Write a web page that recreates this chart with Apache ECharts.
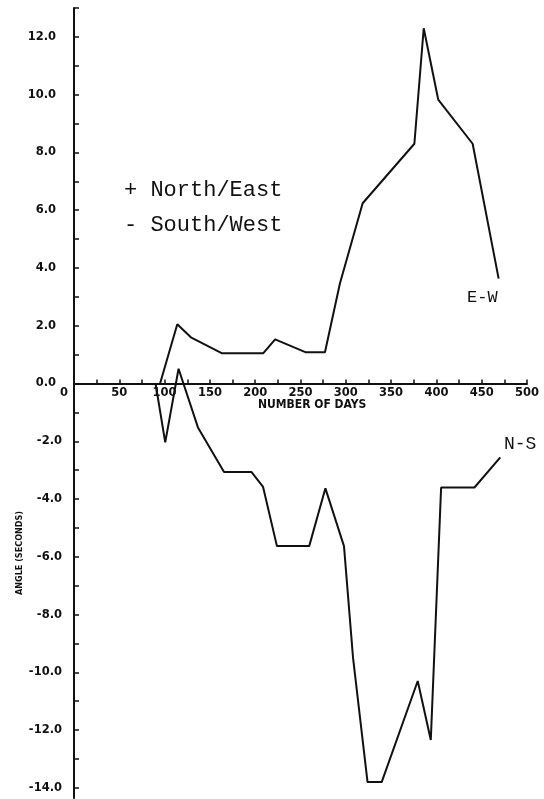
<!DOCTYPE html>
<html>
<head>
<meta charset="utf-8">
<style>
  html, body { margin: 0; padding: 0; background: #fff; }
  #chart { width: 544px; height: 799px; }
</style>
<script src="https://cdn.jsdelivr.net/npm/echarts@6/dist/echarts.min.js"></script>
</head>
<body>
<div id="chart"></div>
<script>
// East-West angle readings (seconds) against elapsed days
const ewDays   = [95, 114, 129, 163, 209, 222, 256, 277, 293.5, 318.6, 375.7, 386, 402, 440, 468.7];
const ewValues = [0, 2.05, 1.6, 1.05, 1.05, 1.53, 1.08, 1.08, 3.46, 6.24, 8.3, 12.3, 9.83, 8.3, 3.63];

// North-South angle readings (seconds) against elapsed days
const nsDays   = [90, 100.7, 115.4, 136.8, 165.6, 195.8, 208.7, 224, 259.6, 277.5, 298, 308, 324, 339.6, 379.4, 393.8, 405.2, 442, 470.5];
const nsValues = [0, -2.04, 0.51, -1.52, -3.06, -3.06, -3.58, -5.63, -5.63, -3.63, -5.63, -9.5, -13.8, -13.8, -10.3, -12.34, -3.6, -3.6, -2.56];

// Axis tick / label positions
const xLabelValues = [0, 50, 100, 150, 200, 250, 300, 350, 400, 450, 500];
const xTickValues  = [25, 50, 75, 100, 125, 150, 175, 200, 225, 250, 275, 300, 325, 350, 375, 400, 425, 450, 475, 500];
const yLabelValues = [-14, -12, -10, -8, -6, -4, -2, 0, 2, 4, 6, 8, 10, 12];
const yTickValues  = [-14, -13, -12, -11, -10, -9, -8, -7, -6, -5, -4, -3, -2, -1, 1, 2, 3, 4, 5, 6, 7, 8, 9, 10, 11, 12, 13];

const pair = (xs, ys) => xs.map((x, i) => [x, ys[i]]);

const INK = '#111';
const tickFont = { fontFamily: 'DejaVu Sans', fontWeight: 'bold', fontSize: 11.5, color: INK };

// Grid geometry: the day axis sits on the zero line of the angle axis
const GRID_TOP = 8, GRID_BOTTOM = 1, CHART_H = 799;
const Y_MIN = -14.35, Y_MAX = 13;
const plotH = CHART_H - GRID_TOP - GRID_BOTTOM;
const zeroY = GRID_TOP + plotH * (Y_MAX / (Y_MAX - Y_MIN));
const xAxisOffset = -((CHART_H - GRID_BOTTOM) - zeroY);

const chart = echarts.init(document.getElementById('chart'), null, { renderer: 'canvas' });

chart.setOption({
  backgroundColor: '#fff',
  animation: false,
  grid: { left: 74, right: 17, top: GRID_TOP, bottom: GRID_BOTTOM, containLabel: false },
  xAxis: {
    type: 'value',
    min: 0,
    max: 500,
    position: 'bottom',
    offset: xAxisOffset,
    axisLine: { onZero: false, lineStyle: { color: INK, width: 2 } },
    axisTick: { show: true, inside: true, length: 4, customValues: xTickValues, lineStyle: { color: INK, width: 1.5 } },
    splitLine: { show: false },
    axisLabel: {
      customValues: xLabelValues,
      margin: 4,
      formatter: v => v === 0 ? '{z|0}' : String(v),
      ...tickFont,
      rich: { z: { ...tickFont, padding: [0, 20, 0, 0] } }
    }
  },
  yAxis: {
    type: 'value',
    min: Y_MIN,
    max: Y_MAX,
    axisLine: { onZero: false, lineStyle: { color: INK, width: 2 } },
    axisTick: { show: true, inside: true, length: 5, customValues: yTickValues, lineStyle: { color: INK, width: 1.5 } },
    splitLine: { show: false },
    axisLabel: {
      customValues: yLabelValues,
      margin: 12,
      formatter: v => v >= 0 ? '{p|' + v.toFixed(1) + '}' : v.toFixed(1),
      ...tickFont,
      rich: { p: { ...tickFont, padding: [0, 6, 0, 0] } }
    }
  },
  series: [
    {
      name: 'E-W',
      type: 'line',
      data: pair(ewDays, ewValues),
      showSymbol: false,
      lineStyle: { color: INK, width: 2 }
    },
    {
      name: 'N-S',
      type: 'line',
      data: pair(nsDays, nsValues),
      showSymbol: false,
      lineStyle: { color: INK, width: 2 }
    }
  ],
  graphic: [
    {
      type: 'text', left: 124, top: 179,
      style: { text: '+ North/East', font: '22px "Liberation Mono"', fill: INK }
    },
    {
      type: 'text', left: 124, top: 214,
      style: { text: '- South/West', font: '22px "Liberation Mono"', fill: INK }
    },
    {
      type: 'text', left: 467, top: 289,
      style: { text: 'E-W', font: '17px "Liberation Mono"', fill: INK }
    },
    {
      type: 'text', left: 504, top: 435,
      style: { text: 'N-S', font: '18px "Liberation Mono"', fill: INK }
    },
    {
      type: 'text', left: 258, top: 399,
      style: { text: 'NUMBER OF DAYS', font: 'bold 12px "DejaVu Sans Condensed", "DejaVu Sans"', fill: INK }
    },
    {
      type: 'text', x: 20, y: 553, rotation: Math.PI / 2,
      style: {
        text: 'ANGLE (SECONDS)', font: 'bold 9px "DejaVu Sans Condensed", "DejaVu Sans"', fill: INK,
        align: 'center', verticalAlign: 'middle'
      }
    }
  ]
});
</script>
</body>
</html>
